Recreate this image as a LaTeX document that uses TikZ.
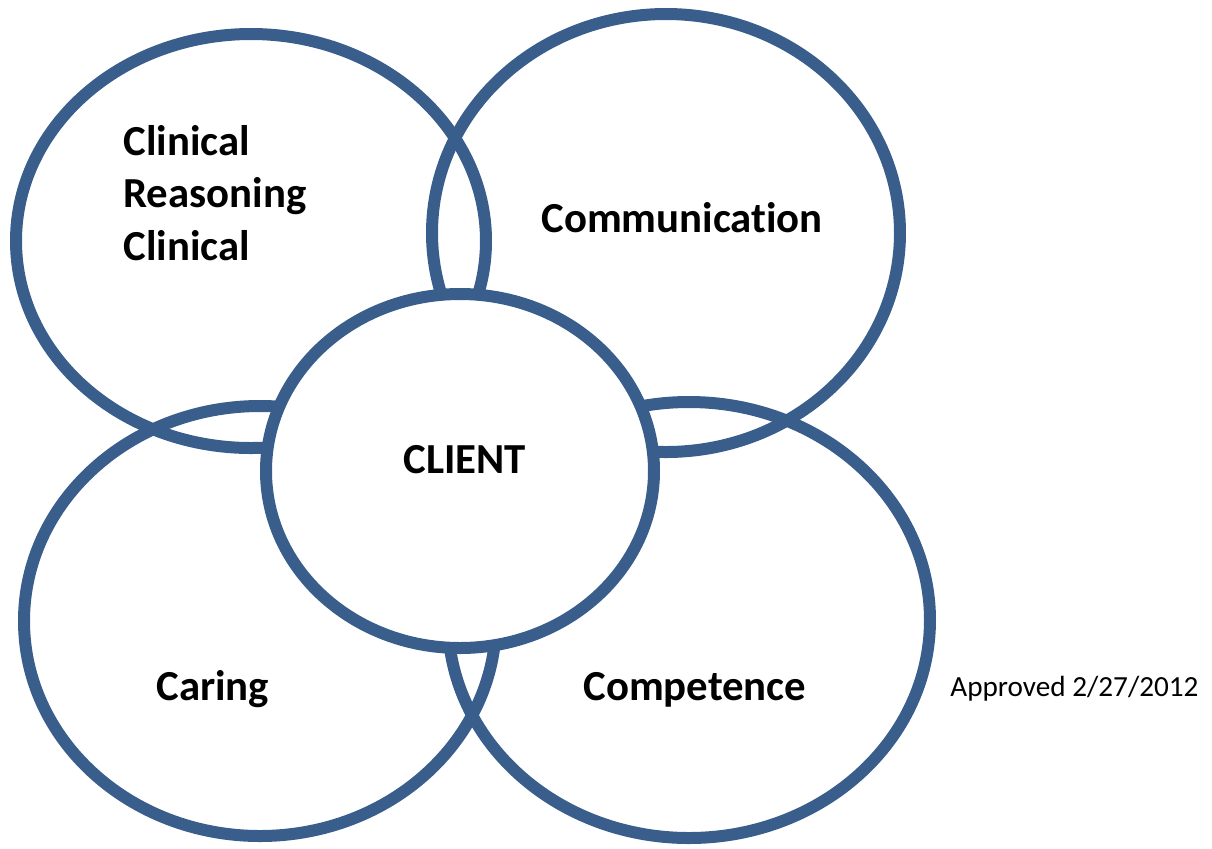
\documentclass[tikz,border=0pt]{standalone}
\usepackage{fontspec}
\setmainfont{Carlito}[RawFeature=-liga]
\usetikzlibrary{shapes.geometric}
\definecolor{ringblue}{RGB}{58,94,140}

\begin{document}
\begin{tikzpicture}[
  x=0.5pt, y=-0.5pt,
  ring/.style={ellipse, draw=ringblue, line width=6pt, inner sep=0pt},
  topic/.style={font=\fontsize{21.4}{26.2}\selectfont\bfseries, inner sep=0pt, anchor=base west},
  stamp/.style={font=\fontsize{14.6}{17.5}\selectfont, inner sep=0pt, anchor=base west},
]
\useasboundingbox (0,0) rectangle (1212,848);

% the four outer rings
\node[ring, minimum width=235pt, minimum height=207pt] (reason) at (251,241) {};
\node[ring, minimum width=234pt, minimum height=219pt] (comm)   at (666,233) {};
\node[ring, minimum width=236pt, minimum height=215pt] (caring) at (260,621) {};
\node[ring, minimum width=241pt, minimum height=218pt] (comp)   at (689,620) {};

% client ring sits on top, white inside
\node[ring, fill=white, minimum width=194pt, minimum height=177pt] (client) at (460,471) {};

% labels
\node[topic, align=left, anchor=north west] (reasonlbl) at (123,125) {Clinical\\Reasoning\\Clinical};
\node[topic] (commlbl)   at (541,232) {Communication};
\node[topic] (clientlbl) at (403,473) {CLIENT};
\node[topic] (caringlbl) at (156,700) {Caring};
\node[topic] (complbl)   at (583,700) {Competence};
\node[stamp] (date) at (950,696) {Approved 2/27/2012};

\end{tikzpicture}
\end{document}
